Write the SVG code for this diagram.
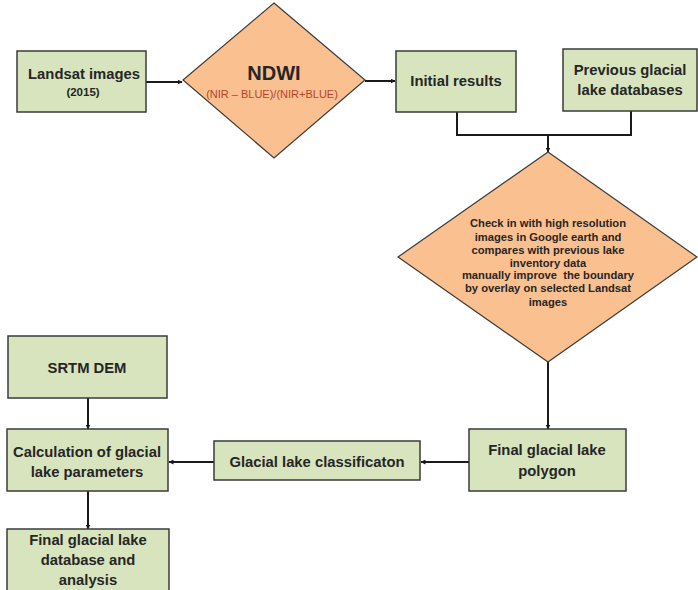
<svg xmlns="http://www.w3.org/2000/svg" width="698" height="590" viewBox="0 0 698 590">
<defs>
<style>
.box{fill:#d7e4bd;stroke:#3b3b3b;stroke-width:1.5}
.dia{fill:#fac090;stroke:#3b3b3b;stroke-width:1.2}
.t{font-family:"Liberation Sans",Arial,sans-serif;font-weight:bold;font-size:14.8px;fill:#262626;text-anchor:middle}
.s{font-size:11.5px}
.d{font-size:11.2px}
.c{fill:none;stroke:#1a1a1a;stroke-width:2}
</style>
<marker id="ah" viewBox="0 0 10 10" refX="9" refY="5" markerWidth="5" markerHeight="5" orient="auto" markerUnits="userSpaceOnUse">
<path d="M0,0 L10,5 L0,10 z" fill="#1a1a1a"/>
</marker>
</defs>
<rect width="698" height="590" fill="#ffffff"/>
<g id="connectors">
<line class="c" x1="146" y1="82" x2="182" y2="82" marker-end="url(#ah)"/>
<line class="c" x1="365" y1="81" x2="395" y2="81" marker-end="url(#ah)"/>
<polyline class="c" points="457,112 457,135 631,135 631,111"/>
<line class="c" x1="548" y1="135" x2="548" y2="152" marker-end="url(#ah)"/>
<line class="c" x1="548" y1="362" x2="548" y2="429" marker-end="url(#ah)"/>
<line class="c" x1="469" y1="462" x2="421" y2="462" marker-end="url(#ah)"/>
<line class="c" x1="214" y1="462" x2="169" y2="462" marker-end="url(#ah)"/>
<line class="c" x1="88" y1="398" x2="88" y2="429" marker-end="url(#ah)"/>
<line class="c" x1="88" y1="491" x2="88" y2="529" marker-end="url(#ah)"/>
</g>
<g id="landsat">
<rect class="box" x="17" y="51" width="129" height="61"/>
<text class="t" x="84" y="79">Landsat images</text>
<text class="t s" x="83" y="96">(2015)</text>
</g>
<g id="ndwi">
<polygon class="dia" points="274,3 365,80 274,158 183,80"/>
<text class="t" x="274" y="80" style="font-size:20px">NDWI</text>
<text class="t" x="272" y="98" style="font-size:11px;font-weight:normal;fill:#b5452a">(NIR – BLUE)/(NIR+BLUE)</text>
</g>
<g id="initial">
<rect class="box" x="396" y="51" width="120" height="61"/>
<text class="t" x="456" y="86">Initial results</text>
</g>
<g id="previous">
<rect class="box" x="563" y="49" width="134" height="62"/>
<text class="t" x="630" y="75">Previous glacial</text>
<text class="t" x="630" y="95">lake databases</text>
</g>
<g id="check">
<polygon class="dia" points="548,152 697,257 548,362 398,257"/>
<text class="t d" x="548" y="227">Check in with high resolution</text>
<text class="t d" x="548" y="241">images in Google earth and</text>
<text class="t d" x="548" y="254">compares with previous lake</text>
<text class="t d" x="548" y="267">inventory data</text>
<text class="t d" x="548" y="279" xml:space="preserve">manually improve  the boundary</text>
<text class="t d" x="548" y="292">by overlay on selected Landsat</text>
<text class="t d" x="548" y="306">images</text>
</g>
<g id="polygon">
<rect class="box" x="469" y="429" width="157" height="62"/>
<text class="t" x="547" y="455">Final glacial lake</text>
<text class="t" x="547" y="476">polygon</text>
</g>
<g id="classification">
<rect class="box" x="214" y="441" width="206" height="39"/>
<text class="t" x="317" y="467">Glacial lake classificaton</text>
</g>
<g id="calculation">
<rect class="box" x="7" y="429" width="161" height="62"/>
<text class="t" x="87" y="457">Calculation of glacial</text>
<text class="t" x="87" y="477">lake parameters</text>
</g>
<g id="srtm">
<rect class="box" x="8" y="336" width="159" height="62"/>
<text class="t" x="87" y="373">SRTM DEM</text>
</g>
<g id="database">
<rect class="box" x="7" y="529" width="162" height="64"/>
<text class="t" x="88" y="545">Final glacial lake</text>
<text class="t" x="88" y="565">database and</text>
<text class="t" x="88" y="585">analysis</text>
</g>
</svg>
